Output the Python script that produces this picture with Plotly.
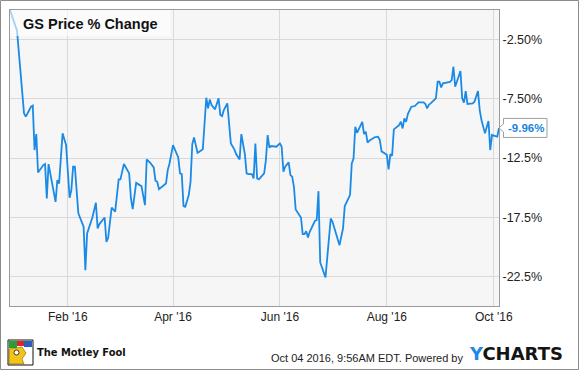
import plotly.graph_objects as go

dates = [
    "2015-12-30", "2016-01-03", "2016-01-07", "2016-01-08", "2016-01-11", "2016-01-12",
    "2016-01-13", "2016-01-14", "2016-01-15", "2016-01-18", "2016-01-19", "2016-01-20",
    "2016-01-21", "2016-01-23", "2016-01-25", "2016-01-26", "2016-01-27", "2016-01-29",
    "2016-01-31", "2016-02-02", "2016-02-03", "2016-02-04", "2016-02-05", "2016-02-07",
    "2016-02-10", "2016-02-11", "2016-02-12", "2016-02-15", "2016-02-17", "2016-02-18",
    "2016-02-19", "2016-02-22", "2016-02-23", "2016-02-24", "2016-02-26", "2016-02-28",
    "2016-03-01", "2016-03-02", "2016-03-04", "2016-03-07", "2016-03-08", "2016-03-09",
    "2016-03-11", "2016-03-13", "2016-03-14", "2016-03-16", "2016-03-17", "2016-03-19",
    "2016-03-21", "2016-03-22", "2016-03-23", "2016-03-24", "2016-03-26", "2016-03-28",
    "2016-03-29", "2016-03-30", "2016-04-01", "2016-04-02", "2016-04-04", "2016-04-05",
    "2016-04-06", "2016-04-07", "2016-04-08", "2016-04-09", "2016-04-10", "2016-04-11",
    "2016-04-12", "2016-04-13", "2016-04-15", "2016-04-16", "2016-04-18", "2016-04-20",
    "2016-04-21", "2016-04-22", "2016-04-23", "2016-04-25", "2016-04-27", "2016-04-28",
    "2016-04-29", "2016-04-30", "2016-05-02", "2016-05-04", "2016-05-06", "2016-05-07",
    "2016-05-09", "2016-05-10", "2016-05-12", "2016-05-13", "2016-05-14", "2016-05-16",
    "2016-05-17", "2016-05-18", "2016-05-19", "2016-05-20", "2016-05-23", "2016-05-24",
    "2016-05-25", "2016-05-26", "2016-05-27", "2016-05-30", "2016-06-01", "2016-06-02",
    "2016-06-03", "2016-06-04", "2016-06-06", "2016-06-07", "2016-06-08", "2016-06-09",
    "2016-06-10", "2016-06-13", "2016-06-14", "2016-06-15", "2016-06-16", "2016-06-17",
    "2016-06-18", "2016-06-21", "2016-06-22", "2016-06-23", "2016-06-24", "2016-06-27",
    "2016-06-30", "2016-07-01", "2016-07-05", "2016-07-07", "2016-07-08", "2016-07-11",
    "2016-07-12", "2016-07-13", "2016-07-14", "2016-07-15", "2016-07-18", "2016-07-19",
    "2016-07-20", "2016-07-21", "2016-07-22", "2016-07-25", "2016-07-27", "2016-07-28",
    "2016-07-29", "2016-08-01", "2016-08-02", "2016-08-03", "2016-08-04", "2016-08-05",
    "2016-08-08", "2016-08-09", "2016-08-10", "2016-08-11", "2016-08-12", "2016-08-13",
    "2016-08-15", "2016-08-17", "2016-08-19", "2016-08-22", "2016-08-23", "2016-08-24",
    "2016-08-25", "2016-08-26", "2016-08-29", "2016-08-30", "2016-08-31", "2016-09-01",
    "2016-09-02", "2016-09-06", "2016-09-07", "2016-09-08", "2016-09-09", "2016-09-12",
    "2016-09-13", "2016-09-14", "2016-09-15", "2016-09-16", "2016-09-19", "2016-09-20",
    "2016-09-22", "2016-09-23", "2016-09-24", "2016-09-26", "2016-09-28", "2016-09-29",
    "2016-09-30", "2016-10-02", "2016-10-03", "2016-10-04",
]

pct_change = [
    0.00, -1.75, -8.73, -9.01, -8.17, -8.08,
    -11.83, -10.48, -13.72, -13.10, -13.01, -15.92,
    -13.01, -14.79, -16.20, -14.37, -14.65, -10.42,
    -11.41, -15.86, -15.21, -13.24, -13.24, -17.18,
    -18.31, -21.97, -18.87, -17.52, -16.28, -18.45,
    -18.08, -17.52, -19.58, -19.24, -16.68, -17.04,
    -14.31, -14.31, -13.01, -13.80, -15.92, -16.82,
    -14.59, -14.79, -14.87, -16.48, -12.62, -12.90,
    -13.30, -14.42, -14.51, -15.13, -14.85, -14.65,
    -13.52, -12.96, -11.41, -11.77, -12.45, -13.80,
    -13.86, -16.56, -16.62, -16.14, -15.63, -14.51,
    -11.32, -10.76, -12.06, -11.97, -11.77, -7.41,
    -8.31, -7.55, -8.03, -8.39, -7.46, -8.87,
    -8.96, -8.45, -7.89, -11.27, -11.77, -12.17,
    -12.62, -10.48, -12.17, -13.80, -13.86, -13.86,
    -14.23, -11.27, -14.23, -14.31, -13.80, -12.68,
    -10.56, -11.63, -11.49, -11.55, -11.27, -11.55,
    -13.66, -13.24, -12.87, -13.94, -14.08, -14.93,
    -16.85, -17.52, -18.93, -18.93, -18.68, -19.21,
    -18.73, -17.80, -17.75, -15.30, -21.32, -22.59,
    -17.61, -17.89, -19.86, -18.45, -16.56, -15.63,
    -12.96, -12.54, -9.86, -10.37, -9.44, -10.48,
    -10.28, -11.21, -11.04, -10.75, -10.70, -10.99,
    -11.94, -12.23, -13.46, -12.17, -12.31, -10.08,
    -9.72, -9.44, -10.00, -9.15, -9.44, -8.79,
    -8.17, -8.11, -7.80, -7.80, -7.94, -8.31,
    -8.00, -7.89, -7.46, -6.06, -6.06, -6.54,
    -6.20, -6.08, -5.92, -4.79, -6.48, -5.15,
    -7.46, -7.83, -6.85, -7.94, -7.89, -7.75,
    -6.85, -8.45, -9.30, -10.42, -9.38, -11.83,
    -10.56, -10.65, -10.70, -9.96,
]

x_tick_vals = ["2016-02-01", "2016-04-01", "2016-06-01", "2016-08-01", "2016-10-01"]
x_tick_text = ["Feb '16", "Apr '16", "Jun '16", "Aug '16", "Oct '16"]
y_tick_vals = [-2.5, -7.5, -12.5, -17.5, -22.5]
y_tick_text = ["-2.50%", "-7.50%", "-12.5%", "-17.5%", "-22.5%"]

title_text = "GS Price % Change"
last_label = "-9.96%"
footer_text = "Oct 04 2016, 9:56AM EDT. Powered by"

LINE = "#1a8ae6"
FONT = "Liberation Sans, Arial, sans-serif"

fig = go.Figure()
fig.add_trace(go.Scatter(
    x=dates, y=pct_change, mode="lines",
    line=dict(color=LINE, width=1.8), hoverinfo="skip", showlegend=False,
))

W, H = 580, 371
ML, MR, MT, MB = 10, 81, 10, 65
pw, ph = W - ML - MR, H - MT - MB


def px_x(p):
    return (p - ML) / pw


def px_y(p):
    return 1 - (p - MT) / ph


shapes = []
# outer frame
shapes.append(dict(type="rect", xref="paper", yref="paper",
                   x0=px_x(0.5), x1=px_x(W - 1.5), y0=px_y(H - 1.5), y1=px_y(0.5),
                   line=dict(color="#8c8c8c", width=1), layer="above"))
# title box (semi-transparent)
shapes.append(dict(type="rect", xref="paper", yref="paper",
                   x0=0, x1=px_x(170), y0=px_y(36), y1=1,
                   fillcolor="rgba(255,255,255,0.6)", line=dict(width=0), layer="above"))
# last value callout with pointer
last_y = pct_change[-1]
dy = 9.5 * 25 / ph
dp = 4 * 25 / ph
xa, xb, xc = 1.0, px_x(503.5), px_x(547)
path = (f"M {xa} {last_y} L {xb} {last_y + dp} L {xb} {last_y + dy} L {xc} {last_y + dy} "
        f"L {xc} {last_y - dy} L {xb} {last_y - dy} L {xb} {last_y - dp} Z")
shapes.append(dict(type="path", xref="paper", yref="y", path=path,
                   fillcolor="white", line=dict(color="#a0a0a0", width=1), layer="above"))
# Motley Fool logo approximation
lx0, lx1, ly0, ly1 = 8, 33, 340, 365
shapes.append(dict(type="rect", xref="paper", yref="paper",
                   x0=px_x(lx0), x1=px_x(lx1), y0=px_y(ly1), y1=px_y(ly0),
                   fillcolor="white", line=dict(color="#111", width=1), layer="above"))
shapes.append(dict(type="rect", xref="paper", yref="paper",
                   x0=px_x(lx0 + 1), x1=px_x(lx0 + 9), y0=px_y(ly0 + 8), y1=px_y(ly0 + 1),
                   fillcolor="#2e9b3a", line=dict(width=0), layer="above"))
shapes.append(dict(type="rect", xref="paper", yref="paper",
                   x0=px_x(lx0 + 9), x1=px_x(lx0 + 16), y0=px_y(ly0 + 6), y1=px_y(ly0 + 1),
                   fillcolor="#d9262b", line=dict(width=0), layer="above"))
shapes.append(dict(type="rect", xref="paper", yref="paper",
                   x0=px_x(lx0 + 16), x1=px_x(lx1 - 1), y0=px_y(ly0 + 7), y1=px_y(ly0 + 1),
                   fillcolor="#2a5fbf", line=dict(width=0), layer="above"))
shapes.append(dict(type="path", xref="paper", yref="paper",
                   path=(f"M {px_x(lx0 + 1)} {px_y(ly1 - 1)} L {px_x(lx0 + 1)} {px_y(ly0 + 9)} "
                         f"L {px_x(lx0 + 14)} {px_y(ly0 + 7)} L {px_x(lx0 + 18)} {px_y(ly0 + 13)} "
                         f"L {px_x(lx0 + 14)} {px_y(ly0 + 19)} L {px_x(lx0 + 16)} {px_y(ly1 - 1)} Z"),
                   fillcolor="#f2c418", line=dict(color="#8a5a00", width=0.6), layer="above"))
shapes.append(dict(type="circle", xref="paper", yref="paper",
                   x0=px_x(lx0 + 6), x1=px_x(lx0 + 11), y0=px_y(ly0 + 15), y1=px_y(ly0 + 10),
                   fillcolor="white", line=dict(color="#111", width=0.8), layer="above"))

annotations = [
    dict(text=f"<b>{title_text}</b>", xref="paper", yref="paper",
         x=px_x(21), y=px_y(24), xanchor="left", yanchor="middle", showarrow=False,
         font=dict(family=FONT, size=14.5, color="#111")),
    dict(text=f"<b>{last_label}</b>", xref="paper", yref="y",
         x=px_x(525.5), y=last_y, xanchor="center", yanchor="middle", showarrow=False,
         font=dict(family=FONT, size=11.5, color="#1a86dc")),
    dict(text="<b>The Motley Fool</b>", xref="paper", yref="paper",
         x=px_x(35), y=px_y(352), xanchor="left", yanchor="middle", showarrow=False,
         font=dict(family="Liberation Sans Narrow, DejaVu Sans Condensed, Arial Narrow, Liberation Sans, sans-serif",
                   size=11, color="#111")),
    dict(text=footer_text, xref="paper", yref="paper",
         x=px_x(465), y=px_y(358), xanchor="right", yanchor="middle", showarrow=False,
         font=dict(family=FONT, size=11, color="#222")),
    dict(text="<b><span style='color:#1e88e5'>Y</span>CHARTS</b>", xref="paper", yref="paper",
         x=px_x(467), y=px_y(354), xanchor="left", yanchor="middle", showarrow=False,
         font=dict(family="DejaVu Sans, sans-serif", size=18, color="#141414")),
]

fig.update_layout(
    width=W, height=H,
    margin=dict(l=ML, r=MR, t=MT, b=MB, pad=0),
    paper_bgcolor="white", plot_bgcolor="#f6f6f6",
    font=dict(family=FONT, size=12, color="#333"),
    shapes=shapes, annotations=annotations,
    xaxis=dict(type="date", range=["2015-12-30", "2016-10-04"],
               tickvals=x_tick_vals, ticktext=x_tick_text,
               showgrid=True, gridcolor="#d9d9d9", gridwidth=1,
               showline=True, linecolor="#9a9a9a", linewidth=1, mirror=True,
               ticks="", zeroline=False, fixedrange=True,
               tickfont=dict(family=FONT, size=12, color="#222")),
    yaxis=dict(range=[-25, 0], side="right",
               tickvals=y_tick_vals, ticktext=y_tick_text,
               showgrid=True, gridcolor="#d9d9d9", gridwidth=1,
               showline=True, linecolor="#9a9a9a", linewidth=1, mirror=True,
               ticks="", zeroline=False, fixedrange=True,
               tickfont=dict(family=FONT, size=12.5, color="#222")),
)

fig.write_html(
    "out.html",
    config={"displayModeBar": False},
    post_script="document.body.style.margin='0';document.body.style.overflow='hidden';",
)
